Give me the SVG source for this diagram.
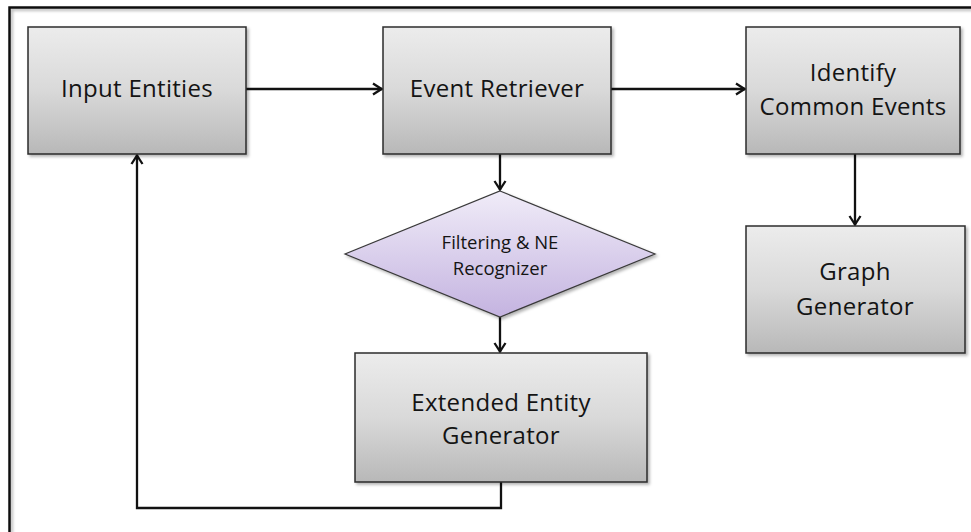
<svg xmlns="http://www.w3.org/2000/svg" width="971" height="532" viewBox="0 0 971 532">
<style>
.box{fill:url(#g);stroke:#2b2b2b;stroke-width:1.5}
.dia{fill:url(#p);stroke:#3a3a3a;stroke-width:1.2}
.t{font-family:"Open Sans","Liberation Sans",sans-serif;font-size:24px;fill:#141414;text-anchor:middle;letter-spacing:0.3px}
.ts{font-family:"Open Sans","Liberation Sans",sans-serif;font-size:18.5px;fill:#141414;text-anchor:middle}
.c{fill:none;stroke:#111;stroke-width:2.3}
</style>
<defs>
<linearGradient id="g" x1="0" y1="0" x2="0" y2="1">
<stop offset="0" stop-color="#ececec"/>
<stop offset="0.5" stop-color="#d9d9d9"/>
<stop offset="1" stop-color="#b8b8b8"/>
</linearGradient>
<linearGradient id="p" x1="0" y1="0" x2="0" y2="1">
<stop offset="0" stop-color="#f0ecf8"/>
<stop offset="1" stop-color="#c4b3e0"/>
</linearGradient>
<filter id="sh" x="-10%" y="-10%" width="130%" height="130%">
<feDropShadow dx="2" dy="2" stdDeviation="1.5" flood-color="#000" flood-opacity="0.3"/>
</filter>
<marker id="a" viewBox="0 0 14 14" refX="13" refY="7" markerWidth="14" markerHeight="14" markerUnits="userSpaceOnUse" orient="auto">
<path d="M4,1.5 L12.5,7 L4,12.5" fill="none" stroke="#111" stroke-width="2.3"/>
</marker>
</defs>
<rect width="971" height="532" fill="#fff"/>
<path d="M9.5,532 V7.5 H971" fill="none" stroke="#111" stroke-width="2.5" filter="url(#sh)"/>

<g id="connectors">
<path class="c" d="M246,89 H382" marker-end="url(#a)"/>
<path class="c" d="M611,89 H745" marker-end="url(#a)"/>
<path class="c" d="M500,154 V190" marker-end="url(#a)"/>
<path class="c" d="M500,317 V352" marker-end="url(#a)"/>
<path class="c" d="M855,154 V225" marker-end="url(#a)"/>
<path class="c" d="M501,482 V508 H137 V155" marker-end="url(#a)"/>
</g>

<g id="input-entities">
<rect class="box" x="28" y="27" width="218" height="127" filter="url(#sh)"/>
<text class="t" x="137" y="97">Input Entities</text>
</g>
<g id="event-retriever">
<rect class="box" x="383" y="27" width="228" height="127" filter="url(#sh)"/>
<text class="t" x="497" y="97">Event Retriever</text>
</g>
<g id="identify-common-events">
<rect class="box" x="746" y="27" width="214" height="127" filter="url(#sh)"/>
<text class="t" x="853" y="81">Identify</text>
<text class="t" x="853" y="115">Common Events</text>
</g>
<g id="graph-generator">
<rect class="box" x="746" y="226" width="219" height="127" filter="url(#sh)"/>
<text class="t" x="855" y="280">Graph</text>
<text class="t" x="855" y="315">Generator</text>
</g>
<g id="filtering-ne-recognizer">
<polygon class="dia" points="500,191 655,254 500,317 345,254" filter="url(#sh)"/>
<text class="ts" x="500" y="249">Filtering &amp; NE</text>
<text class="ts" x="500" y="275">Recognizer</text>
</g>
<g id="extended-entity-generator">
<rect class="box" x="355" y="353" width="292" height="129" filter="url(#sh)"/>
<text class="t" x="501" y="411">Extended Entity</text>
<text class="t" x="501" y="444">Generator</text>
</g>
</svg>
